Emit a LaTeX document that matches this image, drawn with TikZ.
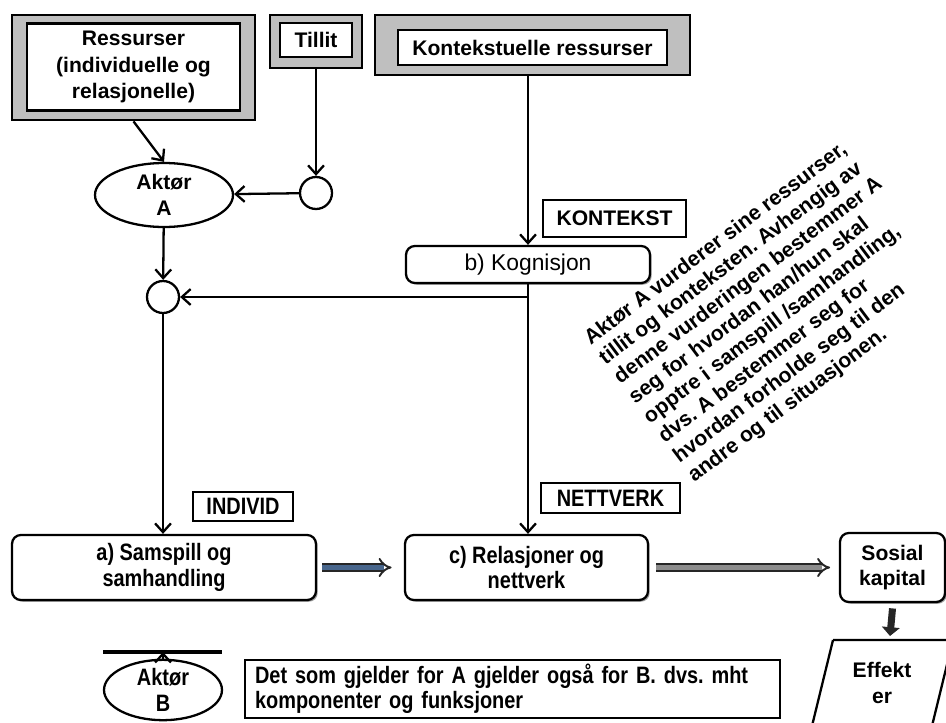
\documentclass[tikz,border=0pt]{standalone}
\usepackage{fontspec}
\setmainfont{Liberation Sans}
\newfontfamily\smalfont[FakeStretch=0.84]{Liberation Sans}
\definecolor{staalbla}{RGB}{72,102,140}
\definecolor{pilgraa}{RGB}{140,140,140}
\usetikzlibrary{arrows.meta,positioning,shapes.geometric,shadows}
\frenchspacing

\begin{document}
\begin{tikzpicture}[x=0.02cm, y=-0.02cm,
      ytre/.style={draw, line width=1.6pt, fill=gray!50, inner sep=0pt},
      indre/.style={draw, line width=1.3pt, fill=white, inner sep=0pt,
                    align=center, font=\fontsize{12}{15}\selectfont\bfseries},
      boks/.style={draw, line width=1.3pt, rounded corners=5pt, fill=white,
                   align=center, inner sep=0pt,
                   drop shadow={shadow xshift=1pt, shadow yshift=-1pt, fill=black!75}},
      etikett/.style={draw, line width=1.6pt, fill=white, inner sep=0pt,
                      font=\fontsize{12}{14.4}\selectfont\bfseries},
      smal/.style={font=\smalfont\fontsize{13.5}{14.5}\selectfont\bfseries},
      fet/.style={font=\fontsize{12}{14.4}\selectfont\bfseries},
      aktor/.style={draw, ellipse, line width=1.3pt, fill=white, inner sep=0pt,
                    align=center},
      sirkel/.style={draw, circle, line width=1.3pt, fill=white,
                     minimum size=0.64cm, inner sep=0pt},
      pil/.style={-{Straight Barb[length=5pt,width=9pt]}, line width=1.3pt},
      dobbel/.style={draw=black!85, double=#1, double distance=2.6pt,
                     line width=1.1pt, -{Implies}},
      tykk/.style={draw=black!85, line width=4pt,
                   -{Triangle[length=5pt,width=10pt]}}
  ]
    \useasboundingbox (0,0) rectangle (946,723);

    % ressurser og tillit
    \node[ytre, minimum width=4.86cm, minimum height=2.1cm] (resytre) at (133.5,67.5) {};
    \node[indre, minimum width=4.26cm, minimum height=1.74cm] (res) at (133.5,67) {Ressurser\\(individuelle og\\relasjonelle)};
    \node[ytre, minimum width=1.84cm, minimum height=1.06cm] (tilytre) at (316,41.5) {};
    \node[indre, minimum width=1.44cm, minimum height=0.68cm] (til) at (316,40) {Tillit};
    \node[ytre, minimum width=6.3cm, minimum height=1.2cm] (konytre) at (532.5,45) {};
    \node[indre, minimum width=5.38cm, minimum height=0.7cm] (kon) at (532.5,47.5) {Kontekstuelle ressurser};

    \node[aktor, fet, minimum width=2.76cm, minimum height=1.28cm] (aktA) at (164,195) {Aktør\\A};
    \node[sirkel] (s1) at (316,193) {};
    \node[sirkel] (s2) at (163,297) {};

    % kognisjon
    \node[boks, font=\fontsize{13}{15}\selectfont, minimum width=4.88cm, minimum height=0.74cm] (kog) at (528,264.5) {b) Kognisjon};
    \node[etikett, minimum width=2.86cm, minimum height=0.74cm] (kontekst) at (614.5,218.5) {KONTEKST};

    \node[rotate=37, anchor=south west, inner sep=0pt, align=left,
          font=\fontsize{12}{14}\selectfont\bfseries] (vurdering) at (697,487)
      {Aktør A vurderer sine ressurser,\\tillit og konteksten. Avhengig av\\denne vurderingen bestemmer A\\seg for hvordan han/hun skal\\opptre i samspill /samhandling,\\dvs. A bestemmer seg for\\hvordan forholde seg til den\\andre og til situasjonen.};

    % nedre rad
    \node[boks, smal, minimum width=6.08cm, minimum height=1.3cm] (samspill) at (164,567.5) {a) Samspill og\\samhandling};
    \node[boks, smal, minimum width=4.86cm, minimum height=1.3cm] (relasjon) at (526.5,567.5) {c) Relasjoner og\\nettverk};
    \node[etikett, smal, minimum width=2cm, minimum height=0.58cm] (individ) at (243,506.5) {INDIVID};
    \node[etikett, smal, minimum width=2.78cm, minimum height=0.6cm] (nettverk) at (610.5,498) {NETTVERK};
    \node[boks, fet, minimum width=2.1cm, minimum height=1.38cm] (sosial) at (892.5,567.5) {Sosial\\kapital};

    \draw[line width=1.3pt] (833,640) -- (953,640) -- (931,730) (833,640) -- (811,730);
    \node[fet, align=center] (effekt) at (882,683) {Effekt\\er};
    \coordinate (effekttopp) at (890,636);

    \node[aktor, smal, minimum width=2.36cm, minimum height=1.12cm] (aktB) at (163,690) {Aktør\\B};
    \coordinate (strekV) at (103,652);
    \coordinate (strekH) at (222,652);
    \draw[line width=2pt] (strekV) -- (strekH);
    \node[etikett, smal, align=left, text width=10.3cm, minimum height=1.16cm, inner xsep=0.2cm] (felles) at (512.5,689)
      {Det som gjelder for A gjelder også for B. dvs. mht\\komponenter og funksjoner};

    % piler
    \draw[pil] (resytre.south) -- (aktA.north);
    \draw[pil] (tilytre.south) -- (s1.north);
    \draw[pil] (s1) -- (aktA);
    \draw[pil] (aktA) -- (s2);
    \draw[pil] (konytre.south -| kog.north) -- (kog.north);
    \draw[pil] (kog.south) -- (kog.south |- relasjon.north);
    \draw[pil] (kog.south |- s2) -- (s2.east);
    \draw[pil] (s2.south) -- (s2.south |- samspill.north);
    \draw[pil] (aktB.north) -- (aktB.north |- strekV);
    \draw[dobbel=staalbla] ([xshift=3pt]samspill.east) -- ([xshift=-7pt]relasjon.west);
    \draw[dobbel=pilgraa] ([xshift=4pt]relasjon.east) -- ([xshift=-5pt]sosial.west);
    \draw[tykk] ([yshift=-3pt]sosial.south) -- (effekttopp);
  \end{tikzpicture}
\end{document}
